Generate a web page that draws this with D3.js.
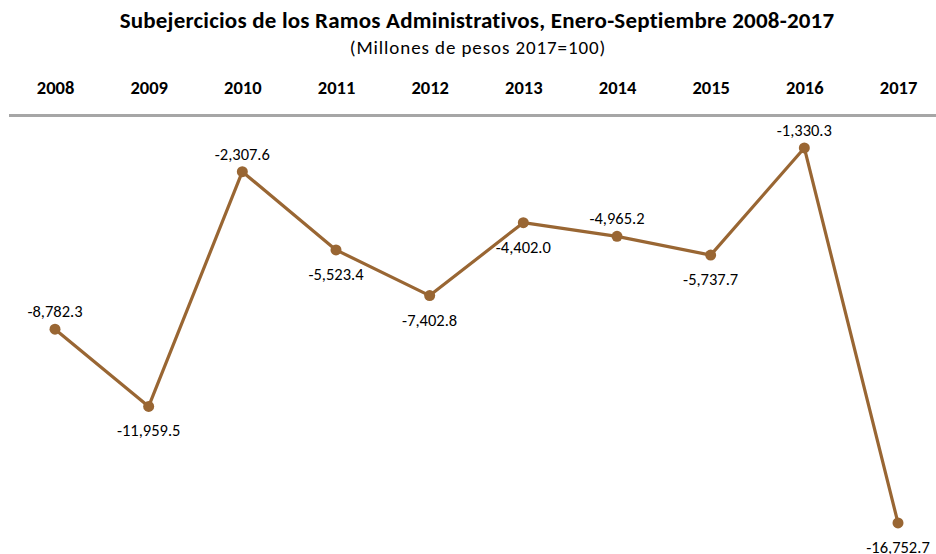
<!DOCTYPE html>
<html><head><meta charset="utf-8">
<script src="https://cdn.jsdelivr.net/npm/d3@7"></script>
<style>body{margin:0;background:#fff;}svg{display:block;font-family:Carlito,Lato,"Open Sans",sans-serif;}</style>
</head><body>
<svg id="c" width="936" height="554"></svg>
<script>
const years = ["2008","2009","2010","2011","2012","2013","2014","2015","2016","2017"];
const values = [-8782.3,-11959.5,-2307.6,-5523.4,-7402.8,-4402.0,-4965.2,-5737.7,-1330.3,-16752.7];
const labelPos = ["above","below","above","below","below","below","above","below","above","below"];
const title = "Subejercicios de los Ramos Administrativos, Enero-Septiembre 2008-2017";
const subtitle = "(Millones de pesos 2017=100)";

const svg = d3.select("#c");
const x = d3.scalePoint().domain(years).range([55, 898]);
const y = d3.scaleLinear().domain([0, -18000]).range([115.6, 553.3]);

svg.append("text").attr("x", 477).attr("y", 28).attr("text-anchor","middle")
  .attr("font-weight","bold").attr("font-size",23).attr("letter-spacing",0.2).attr("fill","#000").text(title);
svg.append("text").attr("x", 478).attr("y", 54).attr("text-anchor","middle")
  .attr("font-size",19).attr("letter-spacing",0.9).attr("fill","#000").text(subtitle);

// year labels on top
const xAxis = d3.axisTop(x).tickSize(0).tickPadding(0);
const gx = svg.append("g").attr("transform","translate(0,94)").call(xAxis);
gx.select(".domain").remove();
gx.selectAll("text").attr("font-weight","bold").attr("font-size",18.5).attr("fill","#000")
  .attr("font-family","Carlito,Lato,sans-serif");

// zero line
svg.append("line").attr("x1",9).attr("x2",936).attr("y1",y(0)).attr("y2",y(0))
  .attr("stroke","#a6a6a6").attr("stroke-width",3);

const color = "#996633";
const line = d3.line().x((d,i)=>x(years[i])).y(d=>y(d));
svg.append("path").datum(values).attr("d",line).attr("fill","none")
  .attr("stroke",color).attr("stroke-width",3.2).attr("stroke-linejoin","round");
svg.selectAll("circle.pt").data(values).join("circle").attr("class","pt")
  .attr("cx",(d,i)=>x(years[i])).attr("cy",d=>y(d)).attr("r",5.5).attr("fill",color);

const fmt = d3.format(",.1f");
svg.selectAll("text.lbl").data(values).join("text").attr("class","lbl")
  .attr("x",(d,i)=>x(years[i])).attr("y",(d,i)=>y(d)+(labelPos[i]==="above"?-12:30))
  .attr("text-anchor","middle").attr("font-size",16.5).attr("fill","#000")
  .text(d=>fmt(d).replace("−","-"));
</script>
</body></html>
